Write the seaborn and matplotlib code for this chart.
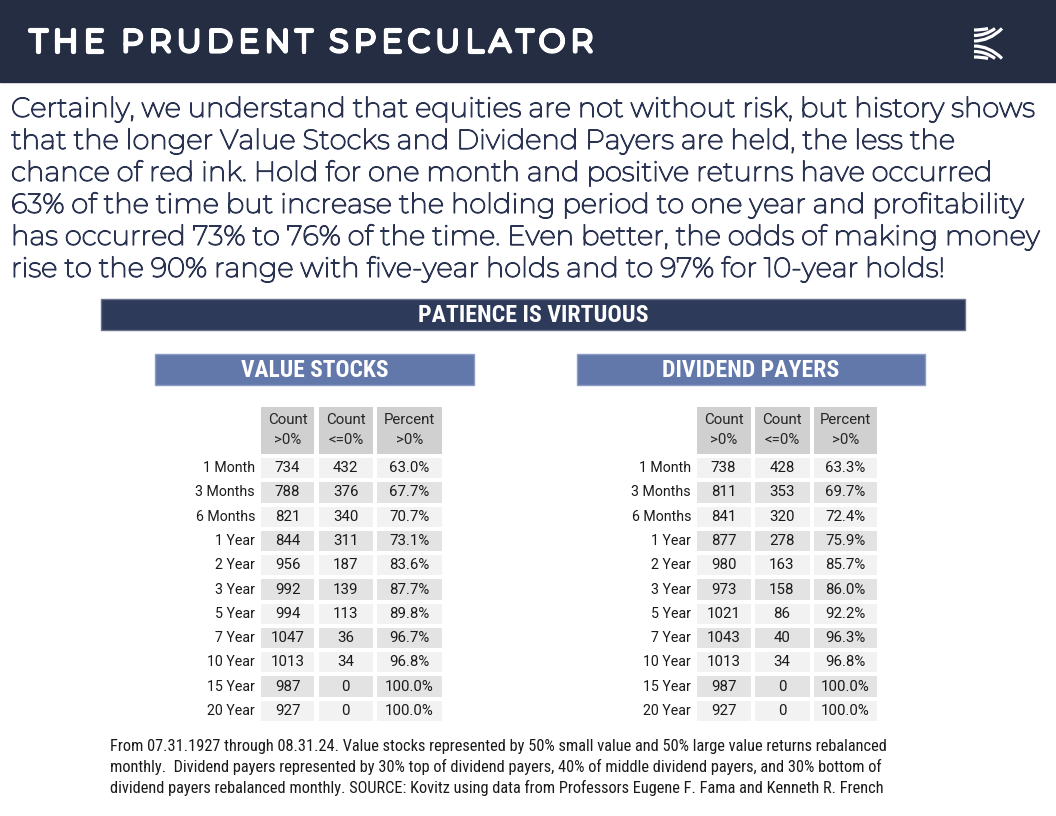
import numpy as np
import pandas as pd
import seaborn as sns
import matplotlib
matplotlib.use("Agg")
import matplotlib.pyplot as plt
import matplotlib.patheffects as pe
from matplotlib.colors import ListedColormap
from matplotlib.patches import Rectangle, PathPatch
from matplotlib.path import Path
from matplotlib.textpath import TextToPath
from matplotlib.font_manager import FontProperties, fontManager

# ---- data ----
periods = ['1 Month', '3 Months', '6 Months', '1 Year', '2 Year', '3 Year',
           '5 Year', '7 Year', '10 Year', '15 Year', '20 Year']
col_headers = ['Count\n>0%', 'Count\n<=0%', 'Percent\n>0%']

vs_pos = [734, 788, 821, 844, 956, 992, 994, 1047, 1013, 987, 927]
vs_neg = [432, 376, 340, 311, 187, 139, 113, 36, 34, 0, 0]
vs_pct = [63.0, 67.7, 70.7, 73.1, 83.6, 87.7, 89.8, 96.7, 96.8, 100.0, 100.0]

dp_pos = [738, 811, 841, 877, 980, 973, 1021, 1043, 1013, 987, 927]
dp_neg = [428, 353, 320, 278, 163, 158, 86, 40, 34, 0, 0]
dp_pct = [63.3, 69.7, 72.4, 75.9, 85.7, 86.0, 92.2, 96.3, 96.8, 100.0, 100.0]

title = 'THE PRUDENT SPECULATOR'
intro_lines = [
    "Certainly, we understand that equities are not without risk, but history shows",
    "that the longer Value Stocks and Dividend Payers are held, the less the",
    "chance of red ink. Hold for one month and positive returns have occurred",
    "63% of the time but increase the holding period to one year and profitability",
    "has occurred 73% to 76% of the time. Even better, the odds of making money",
    "rise to the 90% range with five-year holds and to 97% for 10-year holds!",
]
footer_lines = [
    "From 07.31.1927 through 08.31.24. Value stocks represented by 50% small value and 50% large value returns rebalanced",
    "monthly.  Dividend payers represented by 30% top of dividend payers, 40% of middle dividend payers, and 30% bottom of",
    "dividend payers rebalanced monthly. SOURCE: Kovitz using data from Professors Eugene F. Fama and Kenneth R. French",
]

# ---- style ----
W, H, DPI = 1056, 816, 100
NAVY = '#252d43'
INK = '#2a3352'
BANNER = '#2e3a5a'
BLUE = '#6378aa'
HEAD = '#d0d0d0'
ROW_A, ROW_B = '#f2f2f2', '#e3e3e3'

installed = {f.name for f in fontManager.ttflist}
COND = 'Roboto Condensed' if 'Roboto Condensed' in installed else 'Liberation Sans'
BODY = 'Montserrat' if 'Montserrat' in installed else 'Open Sans'
TABLE = 'Roboto'

sns.set_style('white')
plt.rcParams['font.family'] = [TABLE, 'DejaVu Sans']

t2p = TextToPath()


def text_w(text, family, weight, size=100):
    fp = FontProperties(family=family, weight=weight, size=size)
    return t2p.get_text_width_height_descent(text, fp, ismath=False)[0] * DPI / 72


def fit_size(text, family, weight, width_px):
    return 100 * width_px / text_w(text, family, weight)


fig = plt.figure(figsize=(W / DPI, H / DPI), dpi=DPI)
bg = fig.add_axes([0, 0, 1, 1])
bg.set_xlim(0, W)
bg.set_ylim(H, 0)
bg.axis('off')

# top banner + tracked title (Montserrat here is a thin variable font, so thicken it)
bg.add_patch(Rectangle((0, 0), W, 82, color=NAVY))
tsize = 22
bold_fx = [pe.withStroke(linewidth=3.0, foreground='white', joinstyle='round')]
widths = [tsize * DPI / 72 * 0.25 if c == ' ' else text_w(c, BODY, 'normal', tsize) + 2.5 for c in title]
track = (565 - sum(widths)) / (len(title) - 1)
x = 29
for c, w in zip(title, widths):
    bg.text(x + 1.2, 51.5, c, color='white', fontsize=tsize, family=BODY,
            ha='left', va='baseline', path_effects=bold_fx)
    x += w + track

# logo: fanned stripes forming a K
for i, xe in enumerate([988, 995, 1002]):
    y0 = 30 + 5.5 * i
    for yend, ys in [(28.5, y0), (58.5, 87 - y0)]:
        p = Path([(974, ys), (974 + (xe - 974) * 0.55, ys), (xe, yend)],
                 [Path.MOVETO, Path.CURVE3, Path.CURVE3])
        bg.add_patch(PathPatch(p, fc='none', ec='white', lw=2.3, capstyle='butt'))

# intro paragraph
body_fx = [pe.withStroke(linewidth=0.9, foreground=INK)]
bsize = fit_size(intro_lines[0], BODY, 'normal', 1024)
for i, line in enumerate(intro_lines):
    bg.text(11, 117 + 32 * i, line, color=INK, fontsize=bsize, family=BODY,
            ha='left', va='baseline', path_effects=body_fx)

# section banners
bg.add_patch(Rectangle((101, 299), 864, 31, fc=BANNER, ec='#68728c', lw=1))
bg.text(533, 315.5, 'PATIENCE IS VIRTUOUS', color='white', family=COND, weight='bold',
        fontsize=fit_size('PATIENCE IS VIRTUOUS', COND, 'bold', 230),
        ha='center', va='center')
for x0, x1, label, tw in [(155, 474, 'VALUE STOCKS', 147), (577, 925, 'DIVIDEND PAYERS', 177)]:
    bg.add_patch(Rectangle((x0, 354), x1 - x0, 31, fc=BLUE, ec='#8d9cc4', lw=1))
    bg.text((x0 + x1) / 2, 370.5, label, color='white', family=COND, weight='bold',
            fontsize=fit_size(label, COND, 'bold', tw), ha='center', va='center')


def add_ax(x0, y0, x1, y1):
    return fig.add_axes([x0 / W, 1 - y1 / H, (x1 - x0) / W, (y1 - y0) / H])


shade = [i % 2 for i in range(len(periods))]
row_cmap = ListedColormap([ROW_A, ROW_B])
head_cmap = ListedColormap([HEAD])
CELL_FS = 10.8


def draw_table(edges, pos, neg, pct):
    cols = [[str(v) for v in pos], [str(v) for v in neg], [f'{v:.1f}%' for v in pct]]
    for j in range(3):
        xa, xb = edges[j], edges[j + 1]
        # header cell
        hax = add_ax(xa, 404.5, xb, 456)
        sns.heatmap(np.zeros((1, 1)), ax=hax, cmap=head_cmap, cbar=False,
                    annot=np.array([[col_headers[j]]]), fmt='', linewidths=1.5,
                    linecolor='white', xticklabels=False, yticklabels=False,
                    annot_kws=dict(fontsize=CELL_FS, color='#262626', linespacing=1.55))
        # body cells
        df = pd.DataFrame({'shade': shade}, index=periods)
        ax = add_ax(xa, 456, xb, 723)
        sns.heatmap(df, ax=ax, cmap=row_cmap, vmin=0, vmax=1, cbar=False,
                    annot=np.array(cols[j]).reshape(-1, 1), fmt='', linewidths=1.5,
                    linecolor='white', xticklabels=False, yticklabels=(j == 0),
                    annot_kws=dict(fontsize=CELL_FS, color='#1a1a1a'))
        ax.set_ylabel('')
        if j == 0:
            ax.tick_params(axis='y', length=0, pad=2.5, labelsize=CELL_FS - 0.6,
                           labelcolor='#1a1a1a')
            plt.setp(ax.get_yticklabels(), rotation=0)


draw_table([258.5, 316.5, 375, 443.5], vs_pos, vs_neg, vs_pct)
draw_table([694.5, 752.5, 811.5, 879.5], dp_pos, dp_neg, dp_pct)

# footnote
fsize = fit_size(footer_lines[0], COND, 'normal', 783)
for i, line in enumerate(footer_lines):
    bg.text(110, 751 + 21 * i, line, color='#1a1a1a', fontsize=fsize, family=COND,
            ha='left', va='baseline')

fig.savefig('out.png', dpi=DPI)
